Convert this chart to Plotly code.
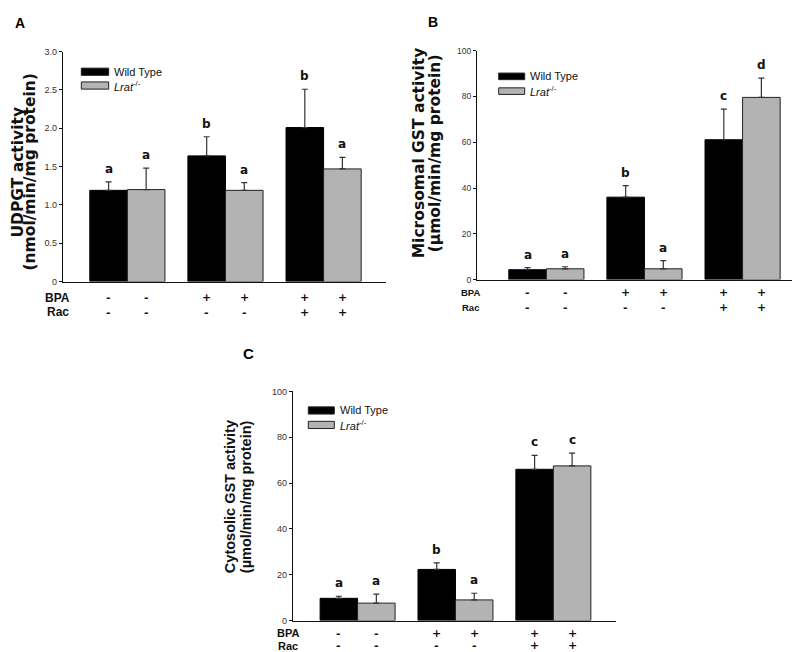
import plotly.graph_objects as go

# ---------------- data ----------------
groups = [1, 2, 3]
bpa_signs = ['-', '-', '+', '+', '+', '+']
rac_signs = ['-', '-', '-', '-', '+', '+']

# Panel A: UDPGT activity
a_wt = [1.19, 1.64, 2.01]
a_wt_err = [0.11, 0.25, 0.50]
a_lr = [1.20, 1.19, 1.47]
a_lr_err = [0.28, 0.10, 0.15]
a_wt_let = ['a', 'b', 'b']
a_lr_let = ['a', 'a', 'a']
a_ticks = [0, 0.5, 1.0, 1.5, 2.0, 2.5, 3.0]
a_ticktext = ['0', '0.5', '1.0', '1.5', '2.0', '2.5', '3.0']

# Panel B: Microsomal GST activity
b_wt = [4.3, 36.0, 61.1]
b_wt_err = [0.9, 5.0, 13.4]
b_lr = [4.7, 4.7, 79.6]
b_lr_err = [0.9, 3.6, 8.4]
b_wt_let = ['a', 'b', 'c']
b_lr_let = ['a', 'a', 'd']
b_ticks = [0, 20, 40, 60, 80, 100]
b_ticktext = ['0', '20', '40', '60', '80', '100']

# Panel C: Cytosolic GST activity
c_wt = [9.7, 22.3, 66.0]
c_wt_err = [0.9, 2.9, 6.1]
c_lr = [7.6, 9.0, 67.5]
c_lr_err = [3.9, 2.9, 5.6]
c_wt_let = ['a', 'b', 'c']
c_lr_let = ['a', 'a', 'c']
c_ticks = [0, 20, 40, 60, 80, 100]
c_ticktext = ['0', '20', '40', '60', '80', '100']

series_names = ['Wild Type', '<i>Lrat</i><sup>-/-</sup>']

# ---------------- styling ----------------
W, H = 800, 652
BLACK = '#000000'
GRAY = '#b3b3b3'
BARGAP = 0.234
half = (1 - BARGAP) / 4.0  # offset of each bar centre from group centre

def px(x):
    return x / W

def py(y):
    return 1 - y / H

panels = [
    dict(key='', wt=a_wt, wte=a_wt_err, lr=a_lr, lre=a_lr_err, wl=a_wt_let, ll=a_lr_let,
         ticks=a_ticks, ticktext=a_ticktext, yrange=[0, 3.0], xrange=[0.344, 3.636],
         xdom=[55, 378], ydom=[272.7, 39.3], tickfont=9,
         title=['UDPGT activity', '(nmol/min/mg protein)'], tfont='DejaVu Sans', tsize=15.5,
         tx=[10.5, 22.5], ty=161.5,
         leg=dict(x0=73.3, x1=100.7, y1=[56, 63.3], y2=[70, 77.3], tx=104),
         rows=dict(bpa=289.3, rac=304, lx=49.5, lsize=12),
         letter=dict(t='A', x=11.5, y=10.5, s=14)),
    dict(key='2', wt=b_wt, wte=b_wt_err, lr=b_lr, lre=b_lr_err, wl=b_wt_let, ll=b_lr_let,
         ticks=b_ticks, ticktext=b_ticktext, yrange=[0, 100], xrange=[0.293, 3.633],
         xdom=[469, 796.7], ydom=[270.7, 38.3], tickfont=8.5,
         title=['Microsomal GST activity', '(\u00b5mol/min/mg protein)'], tfont='DejaVu Sans', tsize=15.5,
         tx=[411, 427], ty=142.5,
         leg=dict(x0=490.7, x1=516.7, y1=[61, 67.7], y2=[76, 82.7], tx=520),
         rows=dict(bpa=284, rac=298.7, lx=462, lsize=9.5),
         letter=dict(t='B', x=425, y=9.5, s=14)),
    dict(key='3', wt=c_wt, wte=c_wt_err, lr=c_lr, lre=c_lr_err, wl=c_wt_let, ll=c_lr_let,
         ticks=c_ticks, ticktext=c_ticktext, yrange=[0, 100], xrange=[0.34, 3.64],
         xdom=[285, 608], ydom=[617, 384.3], tickfont=9,
         title=['Cytosolic GST activity', '(\u00b5mol/min/mg protein)'], tfont='Liberation Sans', tsize=14.5,
         tx=[222, 238], ty=491.7,
         leg=dict(x0=300.3, x1=326.3, y1=[400, 407.3], y2=[414.7, 422], tx=330),
         rows=dict(bpa=630, rac=642.5, lx=279.5, lsize=11),
         letter=dict(t='C', x=240.5, y=346, s=15)),
]

fig = go.Figure()
annotations = []
shapes = []

for p in panels:
    xa = 'x' + p['key']
    ya = 'y' + p['key']
    for vals, errs, color, line_c in [(p['wt'], p['wte'], BLACK, BLACK), (p['lr'], p['lre'], GRAY, '#222222')]:
        fig.add_trace(go.Bar(
            x=groups, y=vals, xaxis=xa, yaxis=ya, showlegend=False,
            marker=dict(color=color, line=dict(color=line_c, width=1)),
            error_y=dict(type='data', array=errs, arrayminus=[0] * len(errs), symmetric=False,
                         color='#333333', thickness=1.2, width=3),
        ))
    # significance letters
    for i, g in enumerate(groups):
        for off, vals, errs, lets in [(-half, p['wt'], p['wte'], p['wl']), (half, p['lr'], p['lre'], p['ll'])]:
            annotations.append(dict(
                x=g + off, y=vals[i] + errs[i], xref=xa, yref=ya, text='<b>%s</b>' % lets[i],
                showarrow=False, yanchor='bottom', xanchor='center', yshift=4,
                font=dict(family='DejaVu Sans', size=12, color='#111111')))
    # treatment rows
    centers = []
    for g in groups:
        centers += [g - half, g + half]
    r = p['rows']
    for label, signs, yy in [('BPA', bpa_signs, r['bpa']), ('Rac', rac_signs, r['rac'])]:
        annotations.append(dict(x=px(r['lx']), y=py(yy), xref='paper', yref='paper',
                                text='<b>%s</b>' % label, showarrow=False, xanchor='center', yanchor='middle',
                                font=dict(family='Liberation Sans', size=r['lsize'], color='#111111')))
        for cx, s in zip(centers, signs):
            annotations.append(dict(x=cx, y=py(yy), xref=xa, yref='paper', text='<b>%s</b>' % s,
                                    showarrow=False, xanchor='center', yanchor='middle',
                                    font=dict(family='DejaVu Sans', size=11, color='#111111')))
    # rotated y titles (two lines)
    for line_txt, tx in zip(p['title'], p['tx']):
        annotations.append(dict(x=px(tx), y=py(p['ty']), xref='paper', yref='paper',
                                text='<b>%s</b>' % line_txt, textangle=-90, showarrow=False,
                                xanchor='center', yanchor='middle',
                                font=dict(family=p['tfont'], size=p['tsize'], color='#111111')))
    # legend
    lg = p['leg']
    for (y0, y1), fill, name in [(lg['y1'], BLACK, series_names[0]), (lg['y2'], GRAY, series_names[1])]:
        shapes.append(dict(type='rect', xref='paper', yref='paper', x0=px(lg['x0']), x1=px(lg['x1']),
                           y0=py(y1), y1=py(y0), fillcolor=fill, line=dict(color='#222222', width=1)))
        annotations.append(dict(x=px(lg['tx']), y=py((y0 + y1) / 2), xref='paper', yref='paper',
                                text=name, showarrow=False, xanchor='left', yanchor='middle',
                                font=dict(family='Liberation Sans', size=11, color='#111111')))
    # panel letter
    L = p['letter']
    annotations.append(dict(x=px(L['x']), y=py(L['y']), xref='paper', yref='paper',
                            text='<b>%s</b>' % L['t'], showarrow=False, xanchor='center', yanchor='middle',
                            font=dict(family='Liberation Sans', size=L['s'], color='#000000')))

layout = dict(
    width=W, height=H, margin=dict(l=0, r=0, t=0, b=0),
    paper_bgcolor='white', plot_bgcolor='white',
    barmode='group', bargap=BARGAP, bargroupgap=0,
    annotations=annotations, shapes=shapes, showlegend=False,
)
for p in panels:
    k = p['key']
    layout['xaxis' + k] = dict(domain=[px(p['xdom'][0]), px(p['xdom'][1])], range=p['xrange'],
                               anchor='y' + k, showline=True, linecolor='#111111', linewidth=1.2,
                               showticklabels=False, ticks='', showgrid=False, zeroline=False, fixedrange=True)
    layout['yaxis' + k] = dict(domain=[py(p['ydom'][0]), py(p['ydom'][1])], range=p['yrange'],
                               anchor='x' + k, showline=True, linecolor='#111111', linewidth=1.2,
                               ticks='outside', ticklen=3, tickwidth=1, tickcolor='#111111',
                               tickvals=p['ticks'], ticktext=p['ticktext'],
                               tickfont=dict(family='Liberation Sans', size=p['tickfont'], color='#333333'),
                               showgrid=False, zeroline=False, fixedrange=True)

fig.update_layout(**layout)
fig.write_html('out.html')
